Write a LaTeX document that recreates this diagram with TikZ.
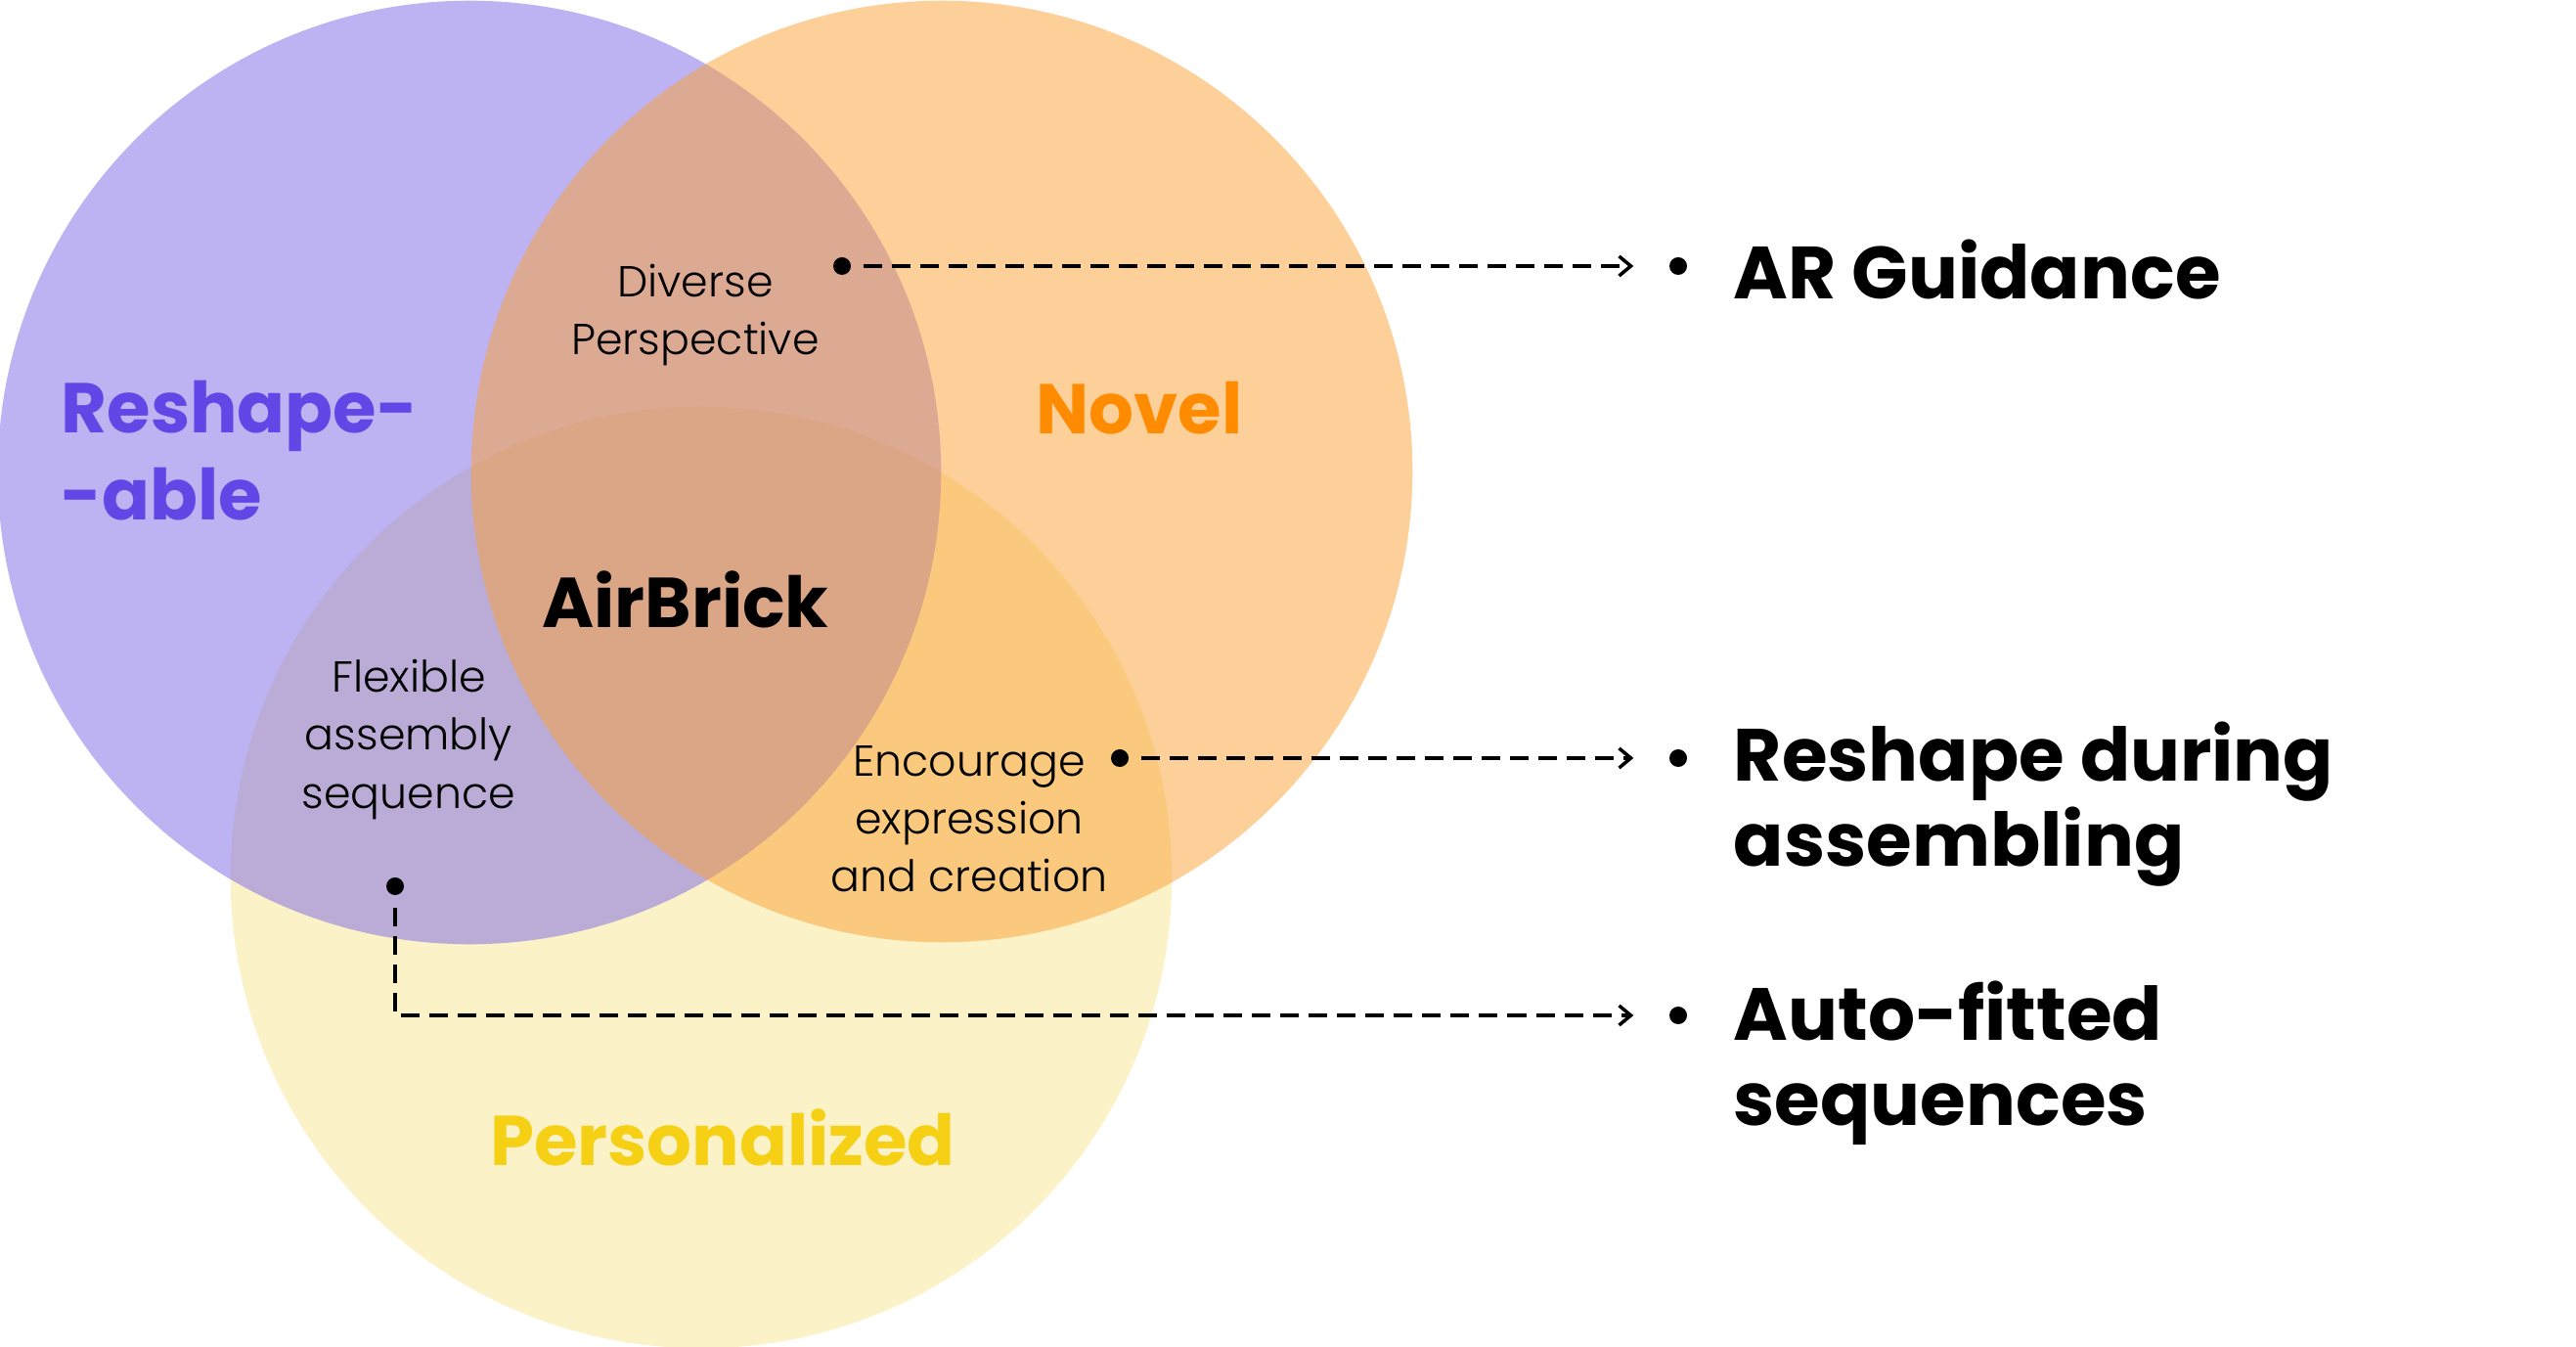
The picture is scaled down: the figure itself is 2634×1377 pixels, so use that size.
\documentclass[tikz,border=0pt]{standalone}
\usepackage{fontspec}
\setmainfont{Poppins}
\newfontfamily\thinfont{Poppins}[UprightFont={* Light}]
\usetikzlibrary{arrows.meta, positioning}

\definecolor{lavender}{RGB}{123,103,231}
\definecolor{apricot}{RGB}{251,161,53}
\definecolor{butter}{RGB}{247,229,145}
\definecolor{violettext}{RGB}{99,71,230}
\definecolor{orangetext}{RGB}{255,140,0}
\definecolor{yellowtext}{RGB}{245,208,20}

\begin{document}
\begin{tikzpicture}
    [
        x=0.01cm, y=-0.01cm,
        set/.style = {fill opacity=0.5, draw=none},
        title/.style = {font=\fontsize{20.5}{25.3}\selectfont\bfseries, align=left, inner sep=0pt},
        note/.style = {font=\fontsize{12.6}{16.8}\selectfont\thinfont, align=center, inner sep=0pt},
        feature/.style = {font=\fontsize{21.5}{24.6}\selectfont\bfseries, align=left, anchor=west, inner sep=0pt},
        pin/.style = {circle, fill=black, inner sep=0pt, minimum size=0.18cm},
        link/.style = {dash pattern=on 0.19cm off 0.1cm, line width=1pt, -{Straight Barb[length=0.12cm, width=0.2cm]}, shorten <=0.12cm, shorten >=0.36cm},
    ]
    \useasboundingbox (0,0) rectangle (2634,1377);

    % the three sets
    \fill[set, butter]   (717,897) circle[radius=4.81cm];
    \fill[set, lavender] (480,483) circle[radius=4.82cm];
    \fill[set, apricot]  (963,482) circle[radius=4.81cm];

    % set names
    \node[title, text=violettext, anchor=west] (reshape) at (62,461) {Reshape-\\-able};
    \node[title, text=orangetext] (novel) at (1165,417) {Novel};
    \node[title, text=yellowtext] (personal) at (739,1163) {Personalized};
    \node[title] (airbrick) at (701,613) {AirBrick};

    % overlaps
    \node[note] (diverse) at (711,322) {Diverse\\Perspective};
    \node[note] (flexible) at (418,756) {Flexible\\assembly\\sequence};
    \node[note] (encourage) at (991,837) {Encourage\\expression\\and creation};

    % pins
    \node[pin] (dot1) at (861,272) {};
    \node[pin] (dot2) at (1145,775) {};
    \node[pin] (dot3) at (404,906) {};

    % features
    \node[pin] (bul1) at (1716,272) {};
    \node[pin] (bul2) at (1716,775) {};
    \node[pin] (bul3) at (1716,1038) {};

    \node[feature] (guide) at (1772,276) {AR Guidance};
    \node[feature] (during) at (1772,822) {Reshape during\\assembling};
    \node[feature] (fitted) at (1772,1087) {Auto-fitted\\sequences};

    \draw [link] (dot1) -- (bul1);
    \draw [link] (dot2) -- (bul2);
    \draw [link] (dot3) |- (bul3);

\end{tikzpicture}
\end{document}
